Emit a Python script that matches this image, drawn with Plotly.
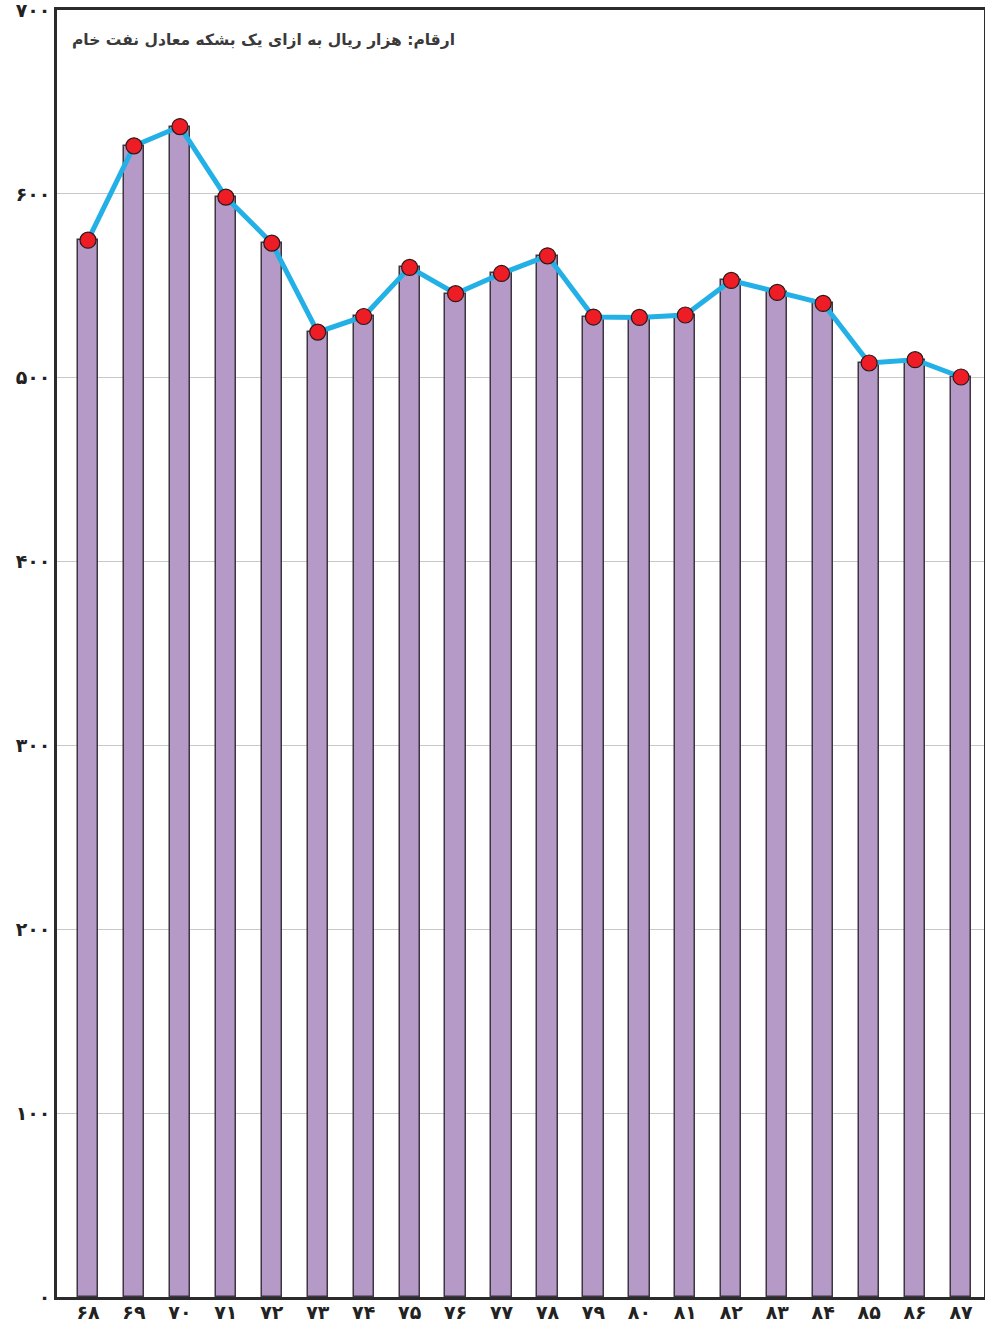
import plotly.graph_objects as go

# سال‌ها (محور افقی) و ارقام: هزار ریال به ازای یک بشکه معادل نفت خام
years = ['۶۸', '۶۹', '۷۰', '۷۱', '۷۲', '۷۳', '۷۴', '۷۵', '۷۶', '۷۷',
         '۷۸', '۷۹', '۸۰', '۸۱', '۸۲', '۸۳', '۸۴', '۸۵', '۸۶', '۸۷']
values = [574.8, 626.1, 636.6, 598.2, 573.2, 524.8, 533.3, 560.0, 545.7, 556.7,
          566.3, 533.0, 532.8, 534.1, 552.9, 546.4, 540.4, 508.0, 509.8, 500.4]
y_tickvals = [0, 100, 200, 300, 400, 500, 600, 700]
y_ticktext = ['۰', '۱۰۰', '۲۰۰', '۳۰۰', '۴۰۰', '۵۰۰', '۶۰۰', '۷۰۰']
note = 'ارقام: هزار ریال به ازای یک بشکه معادل نفت خام'

font_family = "DejaVu Sans, Noto Sans, sans-serif"

fig = go.Figure()
fig.add_trace(go.Bar(
    x=years, y=values, width=0.44,
    marker=dict(color='#b59ac8', line=dict(color='#3d3540', width=1.5)),
    showlegend=False, hoverinfo='skip'))
fig.add_trace(go.Scatter(
    x=years, y=values, mode='lines+markers',
    line=dict(color='#22b0e6', width=5),
    marker=dict(color='#ee1c25', size=16, line=dict(color='#2a1a1a', width=1.2)),
    showlegend=False))

fig.add_annotation(
    text=note, xref='paper', yref='paper', x=0.0141, y=0.977,
    xanchor='left', yanchor='middle', showarrow=False,
    font=dict(family=font_family, size=15.5, color='#3a3a3a', weight='bold'))

fig.update_layout(
    width=985, height=1325,
    margin=dict(l=57, r=1, t=10, b=28),
    paper_bgcolor='white', plot_bgcolor='white',
    bargap=0,
    font=dict(family=font_family, color='#222'))
fig.update_xaxes(
    type='category', range=[-0.675, 19.5],
    showline=True, mirror=True, linecolor='#2b2b2b', linewidth=2.5,
    showgrid=False, ticks='', tickfont=dict(size=19, weight='bold'),
    ticklabelstandoff=-4, automargin=False)
fig.update_yaxes(
    range=[0, 700], tickvals=y_tickvals, ticktext=y_ticktext,
    showline=True, mirror=True, linecolor='#2b2b2b', linewidth=2.5,
    showgrid=True, gridcolor='#c8c8c8', gridwidth=1, zeroline=False,
    ticks='', tickfont=dict(size=19, weight='bold'), automargin=False,
    ticklabeloverflow='allow')

fig.write_html(
    "out.html",
    config={'displayModeBar': False},
    post_script="document.body.style.margin='0';document.body.style.overflow='hidden';")
